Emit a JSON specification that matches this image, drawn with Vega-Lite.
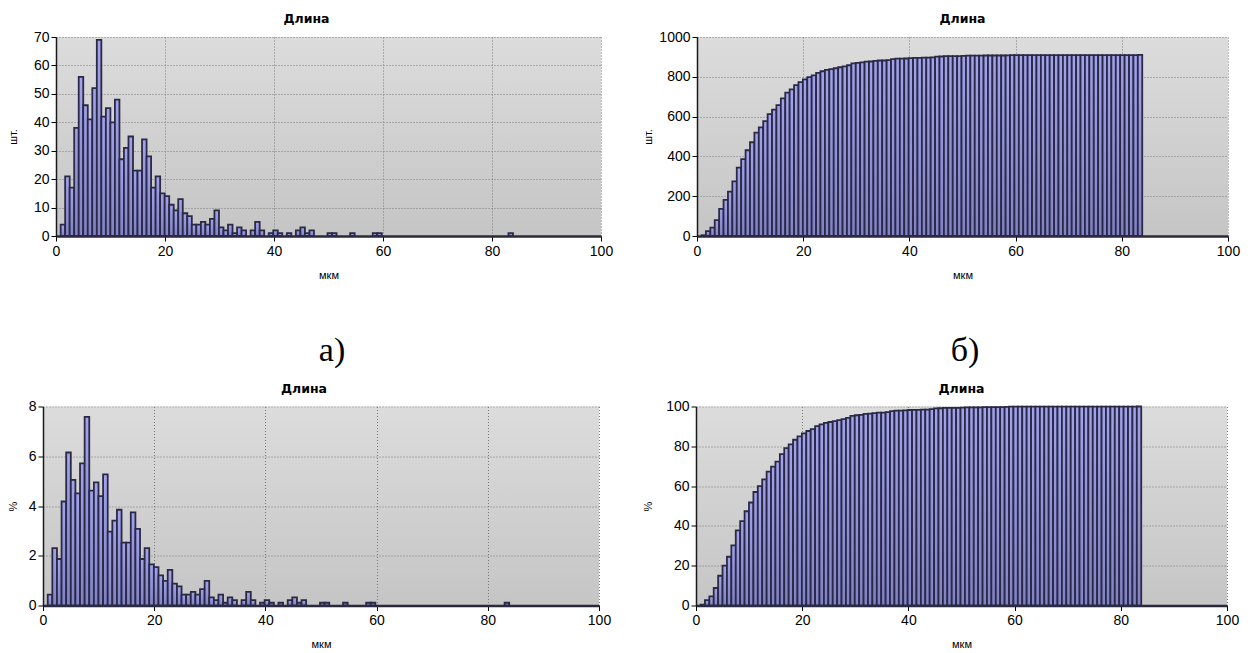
{
  "$schema": "https://vega.github.io/schema/vega-lite/v6.json",
  "padding": {"left": 6, "top": 13, "right": 5, "bottom": 5},
  "background": "#ffffff",
  "datasets": {
    "bins": [
      {"x0": 0.85, "x1": 1.68, "n": 4, "pct": 0.44, "cum": 4, "cpct": 0.44},
      {"x0": 1.68, "x1": 2.51, "n": 21, "pct": 2.31, "cum": 25, "cpct": 2.75},
      {"x0": 2.51, "x1": 3.34, "n": 17, "pct": 1.87, "cum": 42, "cpct": 4.62},
      {"x0": 3.34, "x1": 4.17, "n": 38, "pct": 4.18, "cum": 80, "cpct": 8.79},
      {"x0": 4.17, "x1": 5.0, "n": 56, "pct": 6.15, "cum": 136, "cpct": 14.95},
      {"x0": 5.0, "x1": 5.83, "n": 46, "pct": 5.05, "cum": 182, "cpct": 20.0},
      {"x0": 5.83, "x1": 6.66, "n": 41, "pct": 4.51, "cum": 223, "cpct": 24.51},
      {"x0": 6.66, "x1": 7.49, "n": 52, "pct": 5.71, "cum": 275, "cpct": 30.22},
      {"x0": 7.49, "x1": 8.32, "n": 69, "pct": 7.58, "cum": 344, "cpct": 37.8},
      {"x0": 8.32, "x1": 9.15, "n": 42, "pct": 4.62, "cum": 386, "cpct": 42.42},
      {"x0": 9.15, "x1": 9.98, "n": 45, "pct": 4.95, "cum": 431, "cpct": 47.36},
      {"x0": 9.98, "x1": 10.81, "n": 40, "pct": 4.4, "cum": 471, "cpct": 51.76},
      {"x0": 10.81, "x1": 11.64, "n": 48, "pct": 5.27, "cum": 519, "cpct": 57.03},
      {"x0": 11.64, "x1": 12.47, "n": 27, "pct": 2.97, "cum": 546, "cpct": 60.0},
      {"x0": 12.47, "x1": 13.3, "n": 31, "pct": 3.41, "cum": 577, "cpct": 63.41},
      {"x0": 13.3, "x1": 14.13, "n": 35, "pct": 3.85, "cum": 612, "cpct": 67.25},
      {"x0": 14.13, "x1": 14.96, "n": 23, "pct": 2.53, "cum": 635, "cpct": 69.78},
      {"x0": 14.96, "x1": 15.79, "n": 23, "pct": 2.53, "cum": 658, "cpct": 72.31},
      {"x0": 15.79, "x1": 16.62, "n": 34, "pct": 3.74, "cum": 692, "cpct": 76.04},
      {"x0": 16.62, "x1": 17.45, "n": 28, "pct": 3.08, "cum": 720, "cpct": 79.12},
      {"x0": 17.45, "x1": 18.28, "n": 17, "pct": 1.87, "cum": 737, "cpct": 80.99},
      {"x0": 18.28, "x1": 19.11, "n": 21, "pct": 2.31, "cum": 758, "cpct": 83.3},
      {"x0": 19.11, "x1": 19.94, "n": 15, "pct": 1.65, "cum": 773, "cpct": 84.95},
      {"x0": 19.94, "x1": 20.77, "n": 14, "pct": 1.54, "cum": 787, "cpct": 86.48},
      {"x0": 20.77, "x1": 21.6, "n": 11, "pct": 1.21, "cum": 798, "cpct": 87.69},
      {"x0": 21.6, "x1": 22.43, "n": 9, "pct": 0.99, "cum": 807, "cpct": 88.68},
      {"x0": 22.43, "x1": 23.26, "n": 13, "pct": 1.43, "cum": 820, "cpct": 90.11},
      {"x0": 23.26, "x1": 24.09, "n": 8, "pct": 0.88, "cum": 828, "cpct": 90.99},
      {"x0": 24.09, "x1": 24.92, "n": 7, "pct": 0.77, "cum": 835, "cpct": 91.76},
      {"x0": 24.92, "x1": 25.75, "n": 4, "pct": 0.44, "cum": 839, "cpct": 92.2},
      {"x0": 25.75, "x1": 26.58, "n": 4, "pct": 0.44, "cum": 843, "cpct": 92.64},
      {"x0": 26.58, "x1": 27.41, "n": 5, "pct": 0.55, "cum": 848, "cpct": 93.19},
      {"x0": 27.41, "x1": 28.24, "n": 4, "pct": 0.44, "cum": 852, "cpct": 93.63},
      {"x0": 28.24, "x1": 29.07, "n": 6, "pct": 0.66, "cum": 858, "cpct": 94.29},
      {"x0": 29.07, "x1": 29.9, "n": 9, "pct": 0.99, "cum": 867, "cpct": 95.27},
      {"x0": 29.9, "x1": 30.73, "n": 3, "pct": 0.33, "cum": 870, "cpct": 95.6},
      {"x0": 30.73, "x1": 31.56, "n": 2, "pct": 0.22, "cum": 872, "cpct": 95.82},
      {"x0": 31.56, "x1": 32.39, "n": 4, "pct": 0.44, "cum": 876, "cpct": 96.26},
      {"x0": 32.39, "x1": 33.22, "n": 1, "pct": 0.11, "cum": 877, "cpct": 96.37},
      {"x0": 33.22, "x1": 34.05, "n": 3, "pct": 0.33, "cum": 880, "cpct": 96.7},
      {"x0": 34.05, "x1": 34.88, "n": 2, "pct": 0.22, "cum": 882, "cpct": 96.92},
      {"x0": 34.88, "x1": 35.71, "n": 0, "pct": 0, "cum": 882, "cpct": 96.92},
      {"x0": 35.71, "x1": 36.54, "n": 2, "pct": 0.22, "cum": 884, "cpct": 97.14},
      {"x0": 36.54, "x1": 37.37, "n": 5, "pct": 0.55, "cum": 889, "cpct": 97.69},
      {"x0": 37.37, "x1": 38.2, "n": 2, "pct": 0.22, "cum": 891, "cpct": 97.91},
      {"x0": 38.2, "x1": 39.03, "n": 0, "pct": 0, "cum": 891, "cpct": 97.91},
      {"x0": 39.03, "x1": 39.86, "n": 1, "pct": 0.11, "cum": 892, "cpct": 98.02},
      {"x0": 39.86, "x1": 40.69, "n": 2, "pct": 0.22, "cum": 894, "cpct": 98.24},
      {"x0": 40.69, "x1": 41.52, "n": 1, "pct": 0.11, "cum": 895, "cpct": 98.35},
      {"x0": 41.52, "x1": 42.35, "n": 0, "pct": 0, "cum": 895, "cpct": 98.35},
      {"x0": 42.35, "x1": 43.18, "n": 1, "pct": 0.11, "cum": 896, "cpct": 98.46},
      {"x0": 43.18, "x1": 44.01, "n": 0, "pct": 0, "cum": 896, "cpct": 98.46},
      {"x0": 44.01, "x1": 44.84, "n": 2, "pct": 0.22, "cum": 898, "cpct": 98.68},
      {"x0": 44.84, "x1": 45.67, "n": 3, "pct": 0.33, "cum": 901, "cpct": 99.01},
      {"x0": 45.67, "x1": 46.5, "n": 1, "pct": 0.11, "cum": 902, "cpct": 99.12},
      {"x0": 46.5, "x1": 47.33, "n": 2, "pct": 0.22, "cum": 904, "cpct": 99.34},
      {"x0": 47.33, "x1": 48.16, "n": 0, "pct": 0, "cum": 904, "cpct": 99.34},
      {"x0": 48.16, "x1": 48.99, "n": 0, "pct": 0, "cum": 904, "cpct": 99.34},
      {"x0": 48.99, "x1": 49.82, "n": 0, "pct": 0, "cum": 904, "cpct": 99.34},
      {"x0": 49.82, "x1": 50.65, "n": 1, "pct": 0.11, "cum": 905, "cpct": 99.45},
      {"x0": 50.65, "x1": 51.48, "n": 1, "pct": 0.11, "cum": 906, "cpct": 99.56},
      {"x0": 51.48, "x1": 52.31, "n": 0, "pct": 0, "cum": 906, "cpct": 99.56},
      {"x0": 52.31, "x1": 53.14, "n": 0, "pct": 0, "cum": 906, "cpct": 99.56},
      {"x0": 53.14, "x1": 53.97, "n": 0, "pct": 0, "cum": 906, "cpct": 99.56},
      {"x0": 53.97, "x1": 54.8, "n": 1, "pct": 0.11, "cum": 907, "cpct": 99.67},
      {"x0": 54.8, "x1": 55.63, "n": 0, "pct": 0, "cum": 907, "cpct": 99.67},
      {"x0": 55.63, "x1": 56.46, "n": 0, "pct": 0, "cum": 907, "cpct": 99.67},
      {"x0": 56.46, "x1": 57.29, "n": 0, "pct": 0, "cum": 907, "cpct": 99.67},
      {"x0": 57.29, "x1": 58.12, "n": 0, "pct": 0, "cum": 907, "cpct": 99.67},
      {"x0": 58.12, "x1": 58.95, "n": 1, "pct": 0.11, "cum": 908, "cpct": 99.78},
      {"x0": 58.95, "x1": 59.78, "n": 1, "pct": 0.11, "cum": 909, "cpct": 99.89},
      {"x0": 59.78, "x1": 60.61, "n": 0, "pct": 0, "cum": 909, "cpct": 99.89},
      {"x0": 60.61, "x1": 61.44, "n": 0, "pct": 0, "cum": 909, "cpct": 99.89},
      {"x0": 61.44, "x1": 62.27, "n": 0, "pct": 0, "cum": 909, "cpct": 99.89},
      {"x0": 62.27, "x1": 63.1, "n": 0, "pct": 0, "cum": 909, "cpct": 99.89},
      {"x0": 63.1, "x1": 63.93, "n": 0, "pct": 0, "cum": 909, "cpct": 99.89},
      {"x0": 63.93, "x1": 64.76, "n": 0, "pct": 0, "cum": 909, "cpct": 99.89},
      {"x0": 64.76, "x1": 65.59, "n": 0, "pct": 0, "cum": 909, "cpct": 99.89},
      {"x0": 65.59, "x1": 66.42, "n": 0, "pct": 0, "cum": 909, "cpct": 99.89},
      {"x0": 66.42, "x1": 67.25, "n": 0, "pct": 0, "cum": 909, "cpct": 99.89},
      {"x0": 67.25, "x1": 68.08, "n": 0, "pct": 0, "cum": 909, "cpct": 99.89},
      {"x0": 68.08, "x1": 68.91, "n": 0, "pct": 0, "cum": 909, "cpct": 99.89},
      {"x0": 68.91, "x1": 69.74, "n": 0, "pct": 0, "cum": 909, "cpct": 99.89},
      {"x0": 69.74, "x1": 70.57, "n": 0, "pct": 0, "cum": 909, "cpct": 99.89},
      {"x0": 70.57, "x1": 71.4, "n": 0, "pct": 0, "cum": 909, "cpct": 99.89},
      {"x0": 71.4, "x1": 72.23, "n": 0, "pct": 0, "cum": 909, "cpct": 99.89},
      {"x0": 72.23, "x1": 73.06, "n": 0, "pct": 0, "cum": 909, "cpct": 99.89},
      {"x0": 73.06, "x1": 73.89, "n": 0, "pct": 0, "cum": 909, "cpct": 99.89},
      {"x0": 73.89, "x1": 74.72, "n": 0, "pct": 0, "cum": 909, "cpct": 99.89},
      {"x0": 74.72, "x1": 75.55, "n": 0, "pct": 0, "cum": 909, "cpct": 99.89},
      {"x0": 75.55, "x1": 76.38, "n": 0, "pct": 0, "cum": 909, "cpct": 99.89},
      {"x0": 76.38, "x1": 77.21, "n": 0, "pct": 0, "cum": 909, "cpct": 99.89},
      {"x0": 77.21, "x1": 78.04, "n": 0, "pct": 0, "cum": 909, "cpct": 99.89},
      {"x0": 78.04, "x1": 78.87, "n": 0, "pct": 0, "cum": 909, "cpct": 99.89},
      {"x0": 78.87, "x1": 79.7, "n": 0, "pct": 0, "cum": 909, "cpct": 99.89},
      {"x0": 79.7, "x1": 80.53, "n": 0, "pct": 0, "cum": 909, "cpct": 99.89},
      {"x0": 80.53, "x1": 81.36, "n": 0, "pct": 0, "cum": 909, "cpct": 99.89},
      {"x0": 81.36, "x1": 82.19, "n": 0, "pct": 0, "cum": 909, "cpct": 99.89},
      {"x0": 82.19, "x1": 83.02, "n": 0, "pct": 0, "cum": 909, "cpct": 99.89},
      {"x0": 83.02, "x1": 83.85, "n": 1, "pct": 0.11, "cum": 910, "cpct": 100.0}
    ],
    "labels_a": [{"t": "а)"}],
    "labels_b": [{"t": "б)"}],
    "empty": []
  },
  "config": {
    "view": {"stroke": null},
    "font": "Liberation Sans",
    "axis": {
      "labelFont": "Liberation Sans", "labelFontSize": 14, "labelColor": "#000000",
      "titleFont": "Liberation Sans", "titleFontSize": 11, "titleFontWeight": "normal", "titleColor": "#000000",
      "tickColor": "#000000", "tickSize": 5, "tickWidth": 1,
      "domainColor": "#1a1a1a", "domainWidth": 1.5,
      "grid": true, "gridColor": "#7a7a7a", "gridDash": [1, 2], "gridWidth": 1,
      "labelPadding": 2, "labelFlush": false, "labelOverlap": false, "format": "d"
    },
    "axisX": {"domainWidth": 2.5, "domainColor": "#2a2a3a", "titlePadding": 11, "labelPadding": 3},
    "axisY": {"titlePadding": 7},
    "title": {"font": "DejaVu Sans", "fontSize": 12.5, "fontWeight": "bold", "color": "#000000", "offset": 4.5, "frame": "group"}
  },
  "spacing": 11.5,
  "vconcat": [
    {
      "spacing": 50.5,
      "vconcat": [
        {
          "spacing": 29,
          "hconcat": [
            {
              "spacing": 0,
              "hconcat": [
                {"width": 1, "height": 1, "data": {"name": "empty"}, "mark": {"type": "point", "opacity": 0}},
                {
                  "width": 545, "height": 199,
                  "view": {"fill": {"gradient": "linear", "x1": 0, "y1": 0, "x2": 0, "y2": 1, "stops": [{"offset": 0, "color": "#dcdcdc"}, {"offset": 1, "color": "#c5c5c5"}]}},
                  "title": {"text": "Длина", "dx": -22},
                  "data": {"name": "bins"},
                  "transform": [{"filter": "datum.n > 0"}],
                  "mark": {"type": "bar", "stroke": "#2a2a44", "strokeWidth": 1.8, "fill": {"gradient": "linear", "x1": 0, "y1": 0, "x2": 0, "y2": 1, "stops": [{"offset": 0, "color": "#a2a2ee"}, {"offset": 1, "color": "#8282c8"}]}},
                  "encoding": {
                    "x": {"field": "x0", "type": "quantitative", "scale": {"domain": [0, 100], "nice": false}, "axis": {"title": "мкм", "values": [0, 20, 40, 60, 80, 100]}},
                    "x2": {"field": "x1"},
                    "y": {"field": "n", "type": "quantitative", "scale": {"domain": [0, 70], "nice": false}, "axis": {"title": "шт.", "values": [0, 10, 20, 30, 40, 50, 60, 70], "minExtent": 31, "maxExtent": 31}},
                    "y2": {"datum": 0}
                  }
                }
              ]
            },
            {
              "width": 531, "height": 199,
              "view": {"fill": {"gradient": "linear", "x1": 0, "y1": 0, "x2": 0, "y2": 1, "stops": [{"offset": 0, "color": "#dcdcdc"}, {"offset": 1, "color": "#c5c5c5"}]}},
              "title": {"text": "Длина"},
              "data": {"name": "bins"},
              "mark": {"type": "bar", "stroke": "#2a2a44", "strokeWidth": 1.8, "fill": {"gradient": "linear", "x1": 0, "y1": 0, "x2": 0, "y2": 1, "stops": [{"offset": 0, "color": "#a2a2ee"}, {"offset": 1, "color": "#8282c8"}]}},
              "encoding": {
                "x": {"field": "x0", "type": "quantitative", "scale": {"domain": [0, 100], "nice": false}, "axis": {"title": "мкм", "values": [0, 20, 40, 60, 80, 100]}},
                "x2": {"field": "x1"},
                "y": {"field": "cum", "type": "quantitative", "scale": {"domain": [0, 1000], "nice": false}, "axis": {"title": "шт.", "values": [0, 200, 400, 600, 800, 1000], "minExtent": 37, "maxExtent": 37}},
                "y2": {"datum": 0}
              }
            }
          ]
        },
        {
          "spacing": 0,
          "hconcat": [
            {"width": 1, "height": 1, "data": {"name": "empty"}, "mark": {"type": "point", "opacity": 0}},
            {
              "width": 650, "height": 40,
              "data": {"name": "labels_a"},
              "mark": {"type": "text", "font": "Liberation Serif", "fontSize": 34, "baseline": "middle", "align": "center", "color": "#000000"},
              "encoding": {"text": {"field": "t", "type": "nominal"}}
            },
            {
              "width": 616, "height": 40,
              "data": {"name": "labels_b"},
              "mark": {"type": "text", "font": "Liberation Serif", "fontSize": 34, "baseline": "middle", "align": "center", "color": "#000000"},
              "encoding": {"text": {"field": "t", "type": "nominal"}}
            }
          ]
        }
      ]
    },
    {
      "spacing": 31,
      "hconcat": [
        {
          "spacing": 0,
          "hconcat": [
            {"width": 1, "height": 1, "data": {"name": "empty"}, "mark": {"type": "point", "opacity": 0}},
            {
              "width": 556, "height": 199,
              "view": {"fill": {"gradient": "linear", "x1": 0, "y1": 0, "x2": 0, "y2": 1, "stops": [{"offset": 0, "color": "#dcdcdc"}, {"offset": 1, "color": "#c5c5c5"}]}},
              "title": {"text": "Длина", "dx": -17},
              "data": {"name": "bins"},
              "transform": [{"filter": "datum.n > 0"}],
              "mark": {"type": "bar", "stroke": "#2a2a44", "strokeWidth": 1.8, "fill": {"gradient": "linear", "x1": 0, "y1": 0, "x2": 0, "y2": 1, "stops": [{"offset": 0, "color": "#a2a2ee"}, {"offset": 1, "color": "#8282c8"}]}},
              "encoding": {
                "x": {"field": "x0", "type": "quantitative", "scale": {"domain": [0, 100], "nice": false}, "axis": {"title": "мкм", "values": [0, 20, 40, 60, 80, 100]}},
                "x2": {"field": "x1"},
                "y": {"field": "pct", "type": "quantitative", "scale": {"domain": [0, 8], "nice": false}, "axis": {"title": "%", "values": [0, 2, 4, 6, 8], "minExtent": 18, "maxExtent": 18}},
                "y2": {"datum": 0}
              }
            }
          ]
        },
        {
          "width": 531, "height": 199,
          "view": {"fill": {"gradient": "linear", "x1": 0, "y1": 0, "x2": 0, "y2": 1, "stops": [{"offset": 0, "color": "#dcdcdc"}, {"offset": 1, "color": "#c5c5c5"}]}},
          "title": {"text": "Длина"},
          "data": {"name": "bins"},
          "mark": {"type": "bar", "stroke": "#2a2a44", "strokeWidth": 1.8, "fill": {"gradient": "linear", "x1": 0, "y1": 0, "x2": 0, "y2": 1, "stops": [{"offset": 0, "color": "#a2a2ee"}, {"offset": 1, "color": "#8282c8"}]}},
          "encoding": {
            "x": {"field": "x0", "type": "quantitative", "scale": {"domain": [0, 100], "nice": false}, "axis": {"title": "мкм", "values": [0, 20, 40, 60, 80, 100]}},
            "x2": {"field": "x1"},
            "y": {"field": "cpct", "type": "quantitative", "scale": {"domain": [0, 100], "nice": false}, "axis": {"title": "%", "values": [0, 20, 40, 60, 80, 100], "minExtent": 36, "maxExtent": 36}},
            "y2": {"datum": 0}
          }
        }
      ]
    }
  ]
}
